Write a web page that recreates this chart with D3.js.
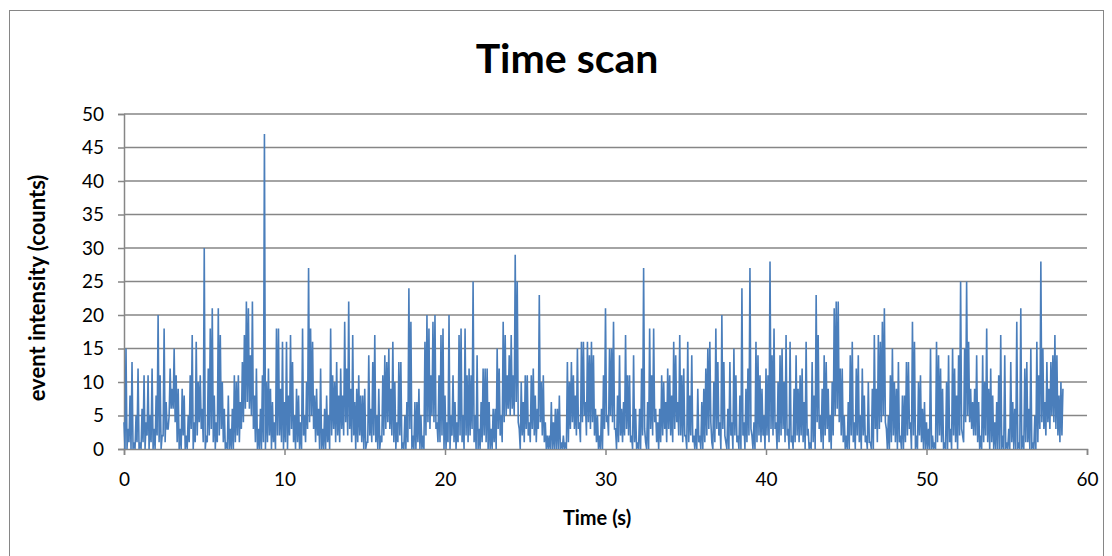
<!DOCTYPE html>
<html>
<head>
<meta charset="utf-8">
<script src="https://cdn.jsdelivr.net/npm/d3@7"></script>
<style>
  body { margin: 0; background: #fff; }
  text { font-family: Lato, "Open Sans", sans-serif; fill: #000; }
</style>
</head>
<body>
<div id="canvas"></div>
<script>
// sample spacing (s); peak counts, in time order
var dt = 0.125;
var seg1 = [4,15,3,8,13,1,5,12,1,6,11,4,11,5,12,3,8,20,11,2,18,7,3,12,9,15,11,9,3,9,8,2,5,11,17,4,16];
var seg2 = [10,11,6,30,2,12,18,21,8,4,21,17,10,6,1,8,3,6,11,10,11,7,13,17,22,21,14,22,8,12,3,6,11,47,10,12,9,7,4,18];
var seg3 = [18,9,16,7,16,8,17,13,5,9,8,4,18,5,10,27,18,16,8,9,6,12,3,6,8,5,18,11,10,13,8,12,8,19,12,22,9,17,7,9];
var seg4 = [11,8,8,9,1,14,6,13,17,5,9,2,11,14,13,15,9,16,10,4,13,13,1,5,7,24,19,2,7,7,9,5,2,16,20,18,11,19,20,4];
var seg5 = [11,17,18,8,4,20,5,11,7,4,17,18,5,18,11,12,11,25,5,14,3,7,12,12,12,7,3,6,6,15,12,5,19,17,11,14,17,11,29,25];
var seg6 = [3,10,7,11,11,4,11,12,8,6,23,10,11,4,2,2,7,4,6,6,8,1,2,1,13,10,13,11,8,15,4,16,16,7,16,14,16,14,6,5];
var seg7 = [2,6,11,21,5,15,15,19,3,8,14,6,7,17,11,11,2,14,6,1,6,12,27,1,7,18,11,18,6,4,6,11,10,7,12,11,8,16,14,7];
var seg8 = [17,11,12,2,16,8,14,2,3,9,2,7,9,12,15,16,1,10,18,13,4,20,13,1,6,13,4,15,11,2,8,24,4,9,12,27,2,4,16,14];
var seg9 = [11,9,5,12,11,28,14,18,4,10,14,15,10,17,3,16,2,9,14,9,11,12,7,16,3,1,13,8,23,17,5,9,14,13,9,5,10,21,22];
var seg10 = [22,12,12,5,2,7,14,16,4,12,14,5,12,8,2,10,1,9,17,9,17,16,19,21,3,5,11,15,10,9,13,2,8,8,13,13,4,19,16,2];
var seg11 = [10,11,6,7,4,3,15,2,1,16,14,12,9,1,10,14,3,15,12,8,14,25,2,15,25,16,9,7,9,14,7,2,14,10,18,9,12,8,4,7];
var seg12 = [11,17,2,14,1,3,13,7,6,19,1,21,2,12,13,6,15,1,5,16,11,28,15,7,13,9,13,14,17,14,8,10,9];

// low counts between consecutive peaks (half a step later)
var dip1 = [0,0,1,0,0,0,1,0,0,1,0,2,0,1,0,0,2,1,0,2,1,3,5,6,6,4,1,0,0,2,0,0,1,3,0,1,2];
var dip2 = [4,3,1,0,1,2,3,1,0,1,2,3,1,0,0,0,0,0,1,2,1,3,4,6,7,6,5,3,1,0,0,0,1,0,1,2,0,1,0,2];
var dip3 = [2,1,0,1,0,2,3,1,0,1,0,0,2,1,3,4,5,3,1,2,0,0,0,0,1,0,2,3,1,2,1,3,2,4,2,3,1,2,0,1];
var dip4 = [2,1,0,0,1,2,1,2,1,0,0,1,2,3,4,3,2,1,0,1,2,0,0,0,1,3,0,0,0,1,0,0,0,2,4,3,5,4,3,1];
var dip5 = [1,2,0,0,1,0,2,1,0,1,2,1,0,2,1,2,3,1,0,0,0,1,2,1,0,0,0,1,0,3,2,1,4,5,6,5,6,5,7,4];
var dip6 = [0,2,1,3,2,1,3,2,1,3,4,2,1,0,0,0,0,0,0,0,0,0,0,0,1,3,4,3,2,3,1,4,5,2,4,3,4,2,1,0];
var dip7 = [0,0,3,4,2,5,4,3,0,1,2,1,2,3,2,1,0,1,0,0,0,2,3,0,0,3,2,4,1,0,1,2,3,1,3,2,1,3,4,2];
var dip8 = [2,1,2,0,1,2,1,0,0,1,0,0,1,2,3,4,0,1,3,2,0,3,2,0,0,2,0,2,1,0,0,2,0,1,2,3,0,0,1,2];
var dip9 = [1,2,0,2,1,3,2,3,0,1,2,3,1,2,0,1,0,1,2,1,2,1,0,2,0,0,1,0,4,3,1,0,2,3,1,0,2,5,6];
var dip10 = [4,2,1,0,0,0,2,1,0,2,1,0,2,1,0,1,0,0,3,1,3,4,5,4,0,0,1,2,1,0,1,0,0,1,2,3,0,2,0,0];
var dip11 = [2,1,0,0,0,0,0,0,0,1,2,1,0,0,0,1,0,2,1,0,2,3,1,4,5,4,3,2,2,1,0,0,1,2,1,0,1,0,0,0];
var dip12 = [0,0,0,0,0,0,1,0,0,0,0,0,0,1,1,0,0,0,0,1,3,4,3,2,4,3,5,4,3,2,1,2];

var xTicks = [0, 10, 20, 30, 40, 50, 60];
var yTicks = [0, 5, 10, 15, 20, 25, 30, 35, 40, 45, 50];

var counts = [].concat(seg1, seg2, seg3, seg4, seg5, seg6, seg7, seg8, seg9, seg10, seg11, seg12);
var dips = [].concat(dip1, dip2, dip3, dip4, dip5, dip6, dip7, dip8, dip9, dip10, dip11, dip12);

var data = [];
counts.forEach(function (c, i) {
  data.push({ t: i * dt, c: c });
  if (i < dips.length) data.push({ t: i * dt + dt / 2, c: dips[i] });
});

var w = 1112, h = 556;
var plotLeft = 124, plotRight = 1087, plotTop = 114, plotBottom = 449;

var paper = d3.select("#canvas")
  .append("svg")
  .attr("width", w)
  .attr("height", h);

// chart frame
paper.append("rect")
  .attr("x", 9.5).attr("y", 10.5)
  .attr("width", 1094).attr("height", 560)
  .style("fill", "#fff")
  .style("stroke", "#868686")
  .style("stroke-width", 1);

var x = d3.scaleLinear().domain([0, 60]).range([plotLeft, plotRight]);
var y = d3.scaleLinear().domain([0, 50]).range([plotBottom, plotTop]);

// horizontal gridlines
paper.append("g")
  .selectAll("line")
  .data(yTicks.slice(1))
  .join("line")
  .attr("x1", plotLeft).attr("x2", plotRight)
  .attr("y1", function (d) { return y(d); })
  .attr("y2", function (d) { return y(d); })
  .style("stroke", "#868686")
  .style("stroke-width", 1.5);

// y axis
var yAxis = paper.append("g")
  .attr("transform", "translate(" + plotLeft + ",0)")
  .call(d3.axisLeft(y).tickValues(yTicks).tickSize(6).tickPadding(14));
yAxis.select(".domain").style("stroke", "#868686").style("stroke-width", 1.5);
yAxis.selectAll(".tick line").style("stroke", "#868686").style("stroke-width", 1.5);
yAxis.selectAll("text").style("font-size", "19px").style("font-family", "Lato, sans-serif");

// x axis
var xAxis = paper.append("g")
  .attr("transform", "translate(0," + plotBottom + ")")
  .call(d3.axisBottom(x).tickValues(xTicks).tickSize(6).tickPadding(18));
xAxis.select(".domain").style("stroke", "#868686").style("stroke-width", 1.5);
xAxis.selectAll(".tick line").style("stroke", "#868686").style("stroke-width", 1.5);
xAxis.selectAll("text").style("font-size", "19px").style("font-family", "Lato, sans-serif");

// the scan
var line = d3.line()
  .x(function (d) { return x(d.t); })
  .y(function (d) { return y(d.c); });

paper.append("path")
  .datum(data)
  .attr("d", line)
  .style("fill", "none")
  .style("stroke", "#4a7ebb")
  .style("stroke-width", 1.6)
  .style("stroke-linejoin", "miter");

// titles
paper.append("text")
  .attr("x", 567).attr("y", 73)
  .attr("text-anchor", "middle")
  .style("font-size", "41px")
  .style("font-weight", "bold")
  .text("Time scan");

paper.append("text")
  .attr("x", 597).attr("y", 525)
  .attr("text-anchor", "middle")
  .style("font-size", "20px")
  .style("font-weight", "bold")
  .text("Time (s)");

paper.append("text")
  .attr("transform", "translate(45,288) rotate(-90)")
  .attr("text-anchor", "middle")
  .style("font-size", "22px")
  .style("font-weight", "bold")
  .text("event intensity (counts)");
</script>
</body>
</html>
